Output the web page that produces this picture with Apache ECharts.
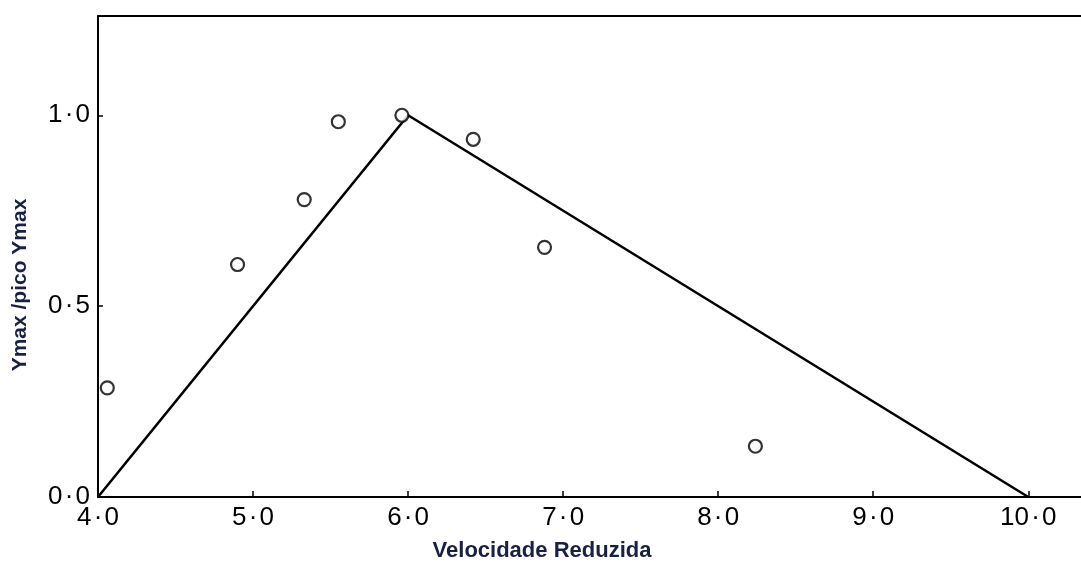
<!DOCTYPE html>
<html>
<head>
<meta charset="utf-8">
<title>Ymax /pico Ymax vs Velocidade Reduzida</title>
<script src="https://cdn.jsdelivr.net/npm/echarts@6/dist/echarts.min.js"></script>
<style>
  html, body { margin: 0; padding: 0; background: #ffffff; }
  #chart { width: 1081px; height: 563px; }
</style>
</head>
<body>
<div id="chart"></div>
<script>
// Measured response points (reduced velocity, normalised amplitude)
const pointX = [4.06, 4.90, 5.33, 5.55, 5.96, 6.42, 6.88, 8.24];
const pointY = [0.286, 0.609, 0.779, 0.983, 1.0, 0.937, 0.654, 0.133];

// Triangular envelope
const lineX = [4.0, 6.0, 10.0];
const lineY = [0.0, 1.0, 0.0];

// Axis ticks and labels
const xTickValues = [4, 5, 6, 7, 8, 9, 10];
const xTickLabels = ['4\u200A·\u200A0', '5\u200A·\u200A0', '6\u200A·\u200A0', '7\u200A·\u200A0', '8\u200A·\u200A0', '9\u200A·\u200A0', '10\u200A·\u200A0'];
const yTickValues = [0, 0.5, 1.0];
const yTickLabels = ['0\u200A·\u200A0', '0\u200A·\u200A5', '1\u200A·\u200A0'];

const xTitle = 'Velocidade Reduzida';
const yTitle = 'Ymax /pico Ymax';

const ink = '#000000';
const titleColor = '#18213f';
const labelFont = '"Liberation Sans", Arial, sans-serif';

const chart = echarts.init(document.getElementById('chart'), null, { renderer: 'canvas' });

const lineData = lineX.map((x, i) => [x, lineY[i]]);
const pointData = pointX.map((x, i) => [x, pointY[i]]);

chart.setOption({
  backgroundColor: '#ffffff',
  animation: false,
  grid: { left: 98, right: 0, top: 16, bottom: 66, containLabel: false },
  xAxis: [
    {
      type: 'value',
      min: 4,
      max: 10.34,
      interval: 1,
      splitLine: { show: false },
      axisLine: { show: true, onZero: false, lineStyle: { color: ink, width: 2 } },
      axisTick: {
        show: true, inside: true, length: 6,
        customValues: xTickValues.slice(1),
        lineStyle: { color: ink, width: 1.5 }
      },
      axisLabel: {
        customValues: xTickValues,
        formatter: v => xTickLabels[xTickValues.indexOf(Math.round(v))],
        color: ink, fontFamily: labelFont, fontSize: 26, margin: 8
      }
    },
    {
      type: 'value',
      position: 'top',
      min: 4,
      max: 10.34,
      splitLine: { show: false },
      axisLine: { show: true, onZero: false, lineStyle: { color: ink, width: 2 } },
      axisTick: { show: false },
      axisLabel: { show: false }
    }
  ],
  yAxis: {
    type: 'value',
    min: 0,
    max: 1.26,
    interval: 0.5,
    splitLine: { show: false },
    axisLine: { show: true, onZero: false, lineStyle: { color: ink, width: 2 } },
    axisTick: {
      show: true, inside: true, length: 5,
      customValues: [0.5, 1.0],
      lineStyle: { color: ink, width: 1.5 }
    },
    axisLabel: {
      customValues: yTickValues,
      formatter: v => yTickLabels[yTickValues.indexOf(Math.round(v * 2) / 2)],
      color: ink, fontFamily: labelFont, fontSize: 26, margin: 8,
      padding: [0, 0, 6, 0]
    }
  },
  graphic: [
    {
      type: 'text',
      x: 542, y: 551,
      style: {
        text: xTitle,
        font: 'bold 22px "Liberation Sans", Arial, sans-serif',
        fill: titleColor,
        textAlign: 'center',
        textVerticalAlign: 'middle'
      }
    },
    {
      type: 'text',
      x: 20, y: 285,
      rotation: Math.PI / 2,
      style: {
        text: yTitle,
        font: 'bold 21px "Liberation Sans", Arial, sans-serif',
        fill: titleColor,
        textAlign: 'center',
        textVerticalAlign: 'middle'
      }
    }
  ],
  series: [
    {
      type: 'line',
      xAxisIndex: 0,
      data: lineData,
      showSymbol: false,
      symbol: 'none',
      lineStyle: { color: ink, width: 2.6 },
      silent: true
    },
    {
      type: 'scatter',
      xAxisIndex: 0,
      data: pointData,
      symbol: 'circle',
      symbolSize: 13,
      itemStyle: { color: '#ffffff', borderColor: ink, borderWidth: 2.2 },
      z: 3
    }
  ]
});
</script>
</body>
</html>
